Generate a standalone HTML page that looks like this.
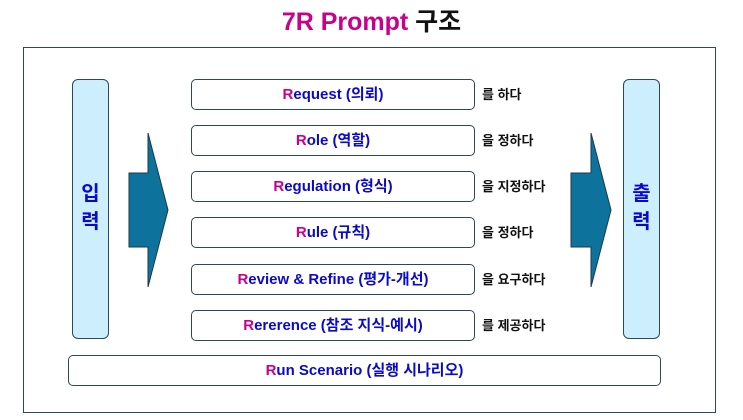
<!DOCTYPE html>
<html><head><meta charset="utf-8"><style>
body{margin:0;width:743px;height:420px;background:#fff;position:relative;overflow:hidden;font-family:"Liberation Sans","Noto Sans CJK KR",sans-serif;font-weight:bold}
.a{position:absolute}
.box{position:absolute;left:191px;width:282px;height:29px;border:1.5px solid #2f4858;border-radius:5px;color:#0a0ac8;font-size:15px;text-align:center;line-height:29px;background:#fff}
.r{color:#c8008c}
.lab{position:absolute;left:482px;font-size:13px;color:#111;line-height:32px}
.bar{position:absolute;top:79px;width:37px;height:260px;background:#cdeefc;border:1.5px solid #2f4858;border-radius:6px;color:#0a0ac8;font-size:20px;text-align:center;line-height:28px;box-sizing:border-box;padding-top:100px}
</style></head><body>
<div class="a" style="left:0;width:743px;top:2px;text-align:center;font-size:25px;color:#c8008c">7R Prompt <span style="color:#111">구조</span></div>
<div class="a" style="left:23px;top:47px;width:691px;height:364px;border:1.5px solid #2f4858"></div>
<div class="bar" style="left:72px">입<br>력</div>
<div class="bar" style="left:623px">출<br>력</div>
<svg class="a" style="left:0;top:0" width="743" height="420">
<polygon points="129,173 148,173 148,133 168,210 148,287 148,247 129,247" fill="#0e739c" stroke="#1a3a4a" stroke-width="1"/>
<polygon points="571,173 591,173 591,133 611,210 591,287 591,247 571,247" fill="#0e739c" stroke="#1a3a4a" stroke-width="1"/>
</svg>
<div class="box" style="top:79px"><span class="r">R</span>equest (의뢰)</div>
<div class="box" style="top:125px"><span class="r">R</span>ole (역할)</div>
<div class="box" style="top:171px"><span class="r">R</span>egulation (형식)</div>
<div class="box" style="top:217px"><span class="r">R</span>ule (규칙)</div>
<div class="box" style="top:264px"><span class="r">R</span>eview &amp; Refine (평가-개선)</div>
<div class="box" style="top:310px"><span class="r">R</span>ererence (참조 지식-예시)</div>
<div class="lab" style="top:79px">를 하다</div>
<div class="lab" style="top:125px">을 정하다</div>
<div class="lab" style="top:171px">을 지정하다</div>
<div class="lab" style="top:217px">을 정하다</div>
<div class="lab" style="top:264px">을 요구하다</div>
<div class="lab" style="top:310px">를 제공하다</div>
<div class="box" style="left:68px;width:591px;top:355px"><span class="r">R</span>un Scenario (실행 시나리오)</div>
</body></html>
